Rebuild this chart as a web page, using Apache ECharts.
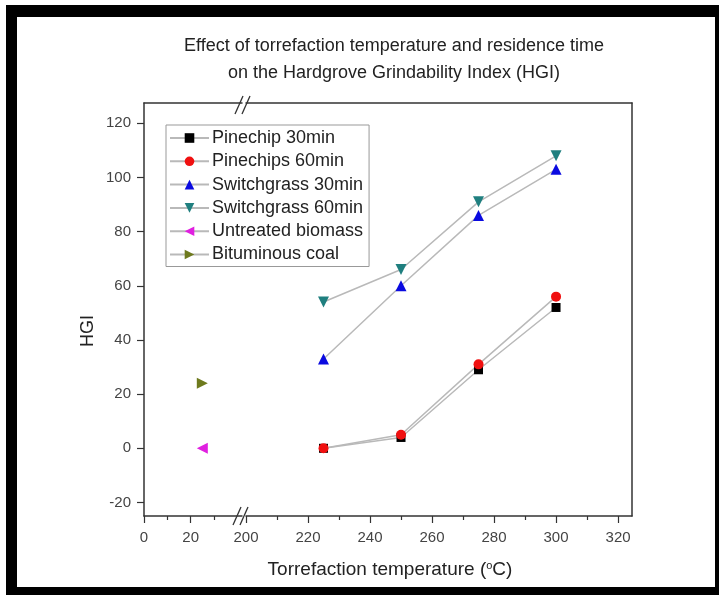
<!DOCTYPE html>
<html>
<head>
<meta charset="utf-8">
<script src="https://cdn.jsdelivr.net/npm/echarts@6/dist/echarts.min.js"></script>
<style>
  body { margin: 0; background: #fff; }
  #frame {
    position: absolute; left: 6px; top: 5px; width: 713px; height: 590px;
    box-sizing: border-box; border-style: solid; border-color: #000;
    border-width: 12px 4px 8px 11px; background: #fff;
  }
  #main { position: absolute; left: 0; top: 0; width: 719px; height: 595px; }
</style>
</head>
<body>
<div id="frame"></div>
<div id="main"></div>
<script>
// data
var temps = [225, 250, 275, 300];
var pine30 = [0, 4, 29, 52];
var pine60 = [0, 5, 31, 56];
var switch30 = [33, 60, 86, 103];
var switch60 = [54, 66, 91, 108];
var untreated = [[25, 0]];
var coal = [[25, 24]];
var yTicks = [-20, 0, 20, 40, 60, 80, 100, 120];
var xTicksLeft = [0, 20];
var xTicksRight = [200, 220, 240, 260, 280, 300, 320];

function pairs(ys) {
  return temps.map(function (t, i) { return [t, ys[i]]; });
}

var font = 'Liberation Sans, Arial, sans-serif';
var axisCol = '#333';
var lineGray = '#b9b9b9';

var myChart = echarts.init(document.getElementById('main'));

function baseX(grid, min, max, labels) {
  return {
    type: 'value', gridIndex: grid, min: min, max: max, interval: 20,
    axisLine: { onZero: false, lineStyle: { color: axisCol, width: 1.5 } },
    axisTick: { inside: false, length: 7, customValues: labels, lineStyle: { color: axisCol, width: 1.2 } },
    minorTick: { show: true, splitNumber: 2, length: 4, lineStyle: { color: axisCol, width: 1.2 } },
    axisLabel: { customValues: labels, color: '#444', fontSize: 15, fontFamily: font, margin: 14 },
    splitLine: { show: false }
  };
}
function topX(grid, min, max) {
  return {
    type: 'value', gridIndex: grid, position: 'top', min: min, max: max,
    axisLine: { onZero: false, lineStyle: { color: axisCol, width: 1.5 } },
    axisTick: { show: false }, axisLabel: { show: false }, splitLine: { show: false }
  };
}

var lineSeries = function (name, data, xi, yi, symbol, size, color, rot) {
  return {
    name: name, type: 'line', xAxisIndex: xi, yAxisIndex: yi, data: data,
    symbol: symbol, symbolSize: size, symbolRotate: rot || 0,
    itemStyle: { color: color },
    lineStyle: { color: lineGray, width: 1.5 },
    z: 3
  };
};

var option = {
  animation: false,
  title: {
    text: 'Effect of torrefaction temperature and residence time\non the Hardgrove Grindability Index (HGI)',
    left: 389, top: 28, textAlign: 'center',
    textStyle: { fontFamily: font, fontSize: 18, fontWeight: 'normal', color: '#222', lineHeight: 27 }
  },
  legend: {
    left: 166, top: 125, orient: 'vertical',
    itemWidth: 39, itemHeight: 12, itemGap: 5.3,
    padding: [4, 6, 3, 3],
    borderColor: '#999', borderWidth: 1, backgroundColor: '#fff',
    textStyle: { fontFamily: font, fontSize: 18, lineHeight: 18, color: '#222', padding: [0, 0, 0, -2] },
    data: ['Pinechip 30min', 'Pinechips 60min', 'Switchgrass 30min', 'Switchgrass 60min', 'Untreated biomass', 'Bituminous coal']
  },
  grid: [
    { left: 144, top: 103, width: 98, height: 413 },
    { left: 246, top: 103, width: 386, height: 413 }
  ],
  xAxis: [
    baseX(0, 0, 42, xTicksLeft),
    baseX(1, 200, 324.5, xTicksRight),
    topX(0, 0, 42),
    topX(1, 200, 324.5)
  ],
  yAxis: [
    {
      type: 'value', gridIndex: 0, min: -25, max: 127.5,
      axisLine: { show: true, onZero: false, lineStyle: { color: axisCol, width: 1.5 } },
      axisTick: { show: true, length: 7, customValues: yTicks, lineStyle: { color: axisCol, width: 1.2 } },
      axisLabel: { customValues: yTicks, color: '#444', fontSize: 15, fontFamily: font, margin: 13 },
      splitLine: { show: false }
    },
    {
      type: 'value', gridIndex: 1, position: 'right', min: -25, max: 127.5,
      axisLine: { show: true, onZero: false, lineStyle: { color: axisCol, width: 1.5 } },
      axisTick: { show: false }, axisLabel: { show: false }, splitLine: { show: false }
    }
  ],
  graphic: [
    { type: 'line', shape: { x1: 233, y1: 525, x2: 241, y2: 507 }, style: { stroke: axisCol, lineWidth: 1.3 } },
    { type: 'line', shape: { x1: 240, y1: 525, x2: 248, y2: 507 }, style: { stroke: axisCol, lineWidth: 1.3 } },
    { type: 'line', shape: { x1: 235, y1: 114, x2: 243, y2: 96 }, style: { stroke: axisCol, lineWidth: 1.3 } },
    { type: 'line', shape: { x1: 242, y1: 114, x2: 250, y2: 96 }, style: { stroke: axisCol, lineWidth: 1.3 } },
    {
      type: 'text', x: 88, y: 331, rotation: Math.PI / 2,
      style: { text: 'HGI', fontFamily: font, fontSize: 18, fill: '#222', align: 'center', verticalAlign: 'middle' }
    },
    {
      type: 'text', x: 390, y: 570,
      style: {
        text: 'Torrefaction temperature ({s|o}C)',
        rich: { s: { fontSize: 11, verticalAlign: 'top', padding: [0, 0, 9, 0], fontFamily: font, fill: '#222' } },
        fontFamily: font, fontSize: 19, fill: '#222', align: 'center', verticalAlign: 'middle'
      }
    }
  ],
  series: [
    lineSeries('Pinechip 30min', pairs(pine30), 1, 1, 'rect', 9, '#000'),
    lineSeries('Pinechips 60min', pairs(pine60), 1, 1, 'circle', 10, '#f01010'),
    lineSeries('Switchgrass 30min', pairs(switch30), 1, 1, 'triangle', 11, '#0a0ae0'),
    lineSeries('Switchgrass 60min', pairs(switch60), 1, 1, 'triangle', 11, '#1f7f7f', 180),
    lineSeries('Untreated biomass', untreated, 0, 0, 'triangle', 11, '#e020e0', 90),
    lineSeries('Bituminous coal', coal, 0, 0, 'triangle', 11, '#6e7a1e', -90)
  ]
};

myChart.setOption(option);
</script>
</body>
</html>
